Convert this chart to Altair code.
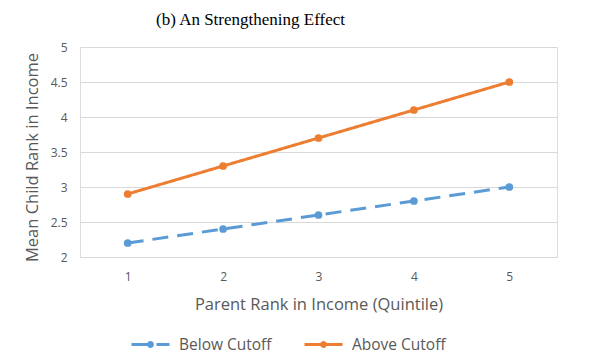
import altair as alt
import pandas as pd

quintiles = [1, 2, 3, 4, 5]
below_cutoff = [2.2, 2.4, 2.6, 2.8, 3.0]
above_cutoff = [2.9, 3.3, 3.7, 4.1, 4.5]
series_names = ["Below Cutoff", "Above Cutoff"]
series_colors = ["#5B9BD5", "#ED7D31"]
y_ticks = [2, 2.5, 3, 3.5, 4, 4.5, 5]

rows = []
for q, v in zip(quintiles, below_cutoff):
    rows.append({"q": q, "v": v, "s": series_names[0]})
for q, v in zip(quintiles, above_cutoff):
    rows.append({"q": q, "v": v, "s": series_names[1]})
df = pd.DataFrame(rows)

FONT = "Open Sans"
GRAY = "#595959"

color_scale = alt.Scale(domain=series_names, range=series_colors)
dash_scale = alt.Scale(domain=series_names, range=[[16, 9], [1, 0]])

# custom legend symbol: line with a dot in the middle
sym_path = "M-1,0L1,0M-0.1,0A0.1,0.1,0,1,1,0.1,0A0.1,0.1,0,1,1,-0.1,0Z"

x_scale = alt.Scale(type="point", padding=0.5)
y_scale = alt.Scale(domain=[2, 5], nice=False, zero=False)

x_axis = alt.Axis(
    title="Parent Rank in Income (Quintile)",
    labelAngle=0,
    labelFont=FONT,
    labelFontSize=12,
    labelColor=GRAY,
    labelPadding=14,
    ticks=False,
    domain=True,
    domainColor="#D9D9D9",
    grid=False,
    titleFont=FONT,
    titleFontSize=16.5,
    titleFontWeight="normal",
    titleColor=GRAY,
    titlePadding=14,
)
y_axis = alt.Axis(
    title="Mean Child Rank in Income",
    values=y_ticks,
    format="~g",
    labelOverlap=False,
    labelFont=FONT,
    labelFontSize=12,
    labelColor=GRAY,
    labelPadding=13,
    ticks=False,
    domain=False,
    grid=True,
    gridColor="#D9D9D9",
    gridWidth=1.2,
    titleFont=FONT,
    titleFontSize=16.5,
    titleFontWeight="normal",
    titleColor=GRAY,
    titlePadding=10,
    titleY=110,
)

x_enc = alt.X("q:O", scale=x_scale, axis=x_axis)
y_enc = alt.Y("v:Q", scale=y_scale, axis=y_axis)

lines = alt.Chart(df).mark_line(strokeWidth=3).encode(
    x=x_enc,
    y=y_enc,
    color=alt.Color(
        "s:N",
        scale=color_scale,
        sort=series_names,
        legend=alt.Legend(
            title=None,
            orient="none",
            direction="horizontal",
            legendX=50,
            legendY=277,
            symbolType=sym_path,
            symbolSize=1444,
            symbolStrokeWidth=3,
            labelFont=FONT,
            labelFontSize=15.5,
            labelColor=GRAY,
            labelOffset=8,
            columnPadding=26,
            symbolOffset=0,
        ),
    ),
    strokeDash=alt.StrokeDash("s:N", scale=dash_scale, sort=series_names, legend=None),
)

points = alt.Chart(df).mark_point(filled=True, size=60, opacity=1).encode(
    x=x_enc,
    y=y_enc,
    color=alt.Color("s:N", scale=color_scale, legend=None),
)

chart = (
    alt.layer(lines, points)
    .properties(
        width=477,
        height=210,
        autosize=alt.AutoSizeParams(type="none"),
        padding={"left": 72, "top": 39, "right": 25, "bottom": 96},
        title=alt.TitleParams(
            text="(b) An Strengthening Effect",
            font="Liberation Serif",
            fontSize=17,
            fontWeight="normal",
            color="#000000",
            anchor="middle",
            dx=-68,
            offset=12,
        ),
    )
    .configure_view(stroke=None)
    .configure(background="white")
)

chart.save("out.html", embed_options={"renderer": "svg", "actions": False})
